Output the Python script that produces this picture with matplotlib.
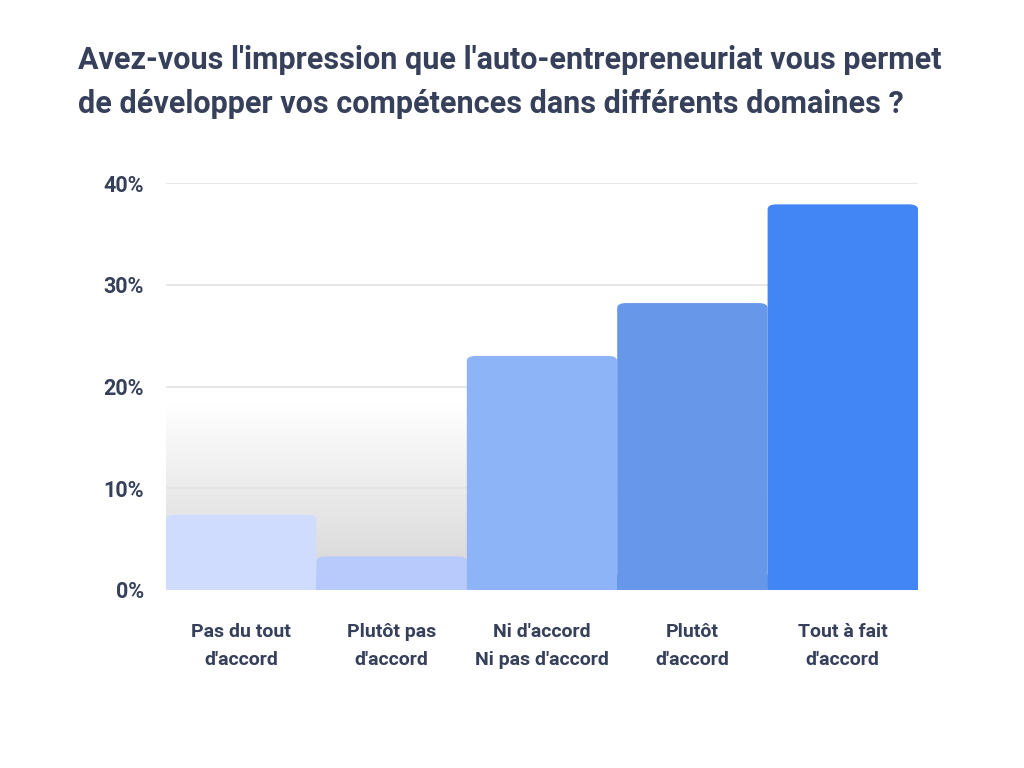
import numpy as np
import matplotlib
matplotlib.use("Agg")
import matplotlib.pyplot as plt
from matplotlib.patches import FancyBboxPatch
from matplotlib.colors import LinearSegmentedColormap

categories = ["Pas du tout\nd'accord", "Plutôt pas\nd'accord", "Ni d'accord\nNi pas d'accord",
              "Plutôt\nd'accord", "Tout à fait\nd'accord"]
values = [7.4, 3.3, 23.0, 28.2, 37.9]
colors = ["#cfdcfd", "#b8cafc", "#8db4f7", "#6797e9", "#4286f5"]
yticks = [0, 10, 20, 30, 40]

TEXT = "#36405a"
plt.rcParams["font.family"] = ["Roboto", "DejaVu Sans"]

fig = plt.figure(figsize=(10.24, 7.68), dpi=100)
ax = fig.add_axes([166 / 1024, 1 - 590 / 768, (918 - 166) / 1024, (590 - 183) / 768])
ax.set_xlim(-0.5, 4.5)
ax.set_ylim(0, 40)

# soft grey gradient behind the first two bars
grad = np.linspace(0, 1, 256).reshape(-1, 1)
cmap = LinearSegmentedColormap.from_list("g", ["#d4d4d4", "#ffffff"])
ax.imshow(grad, cmap=cmap, aspect="auto", extent=(-0.5, 1.5, 0, 18.2),
          origin="lower", zorder=0)

for y in yticks[1:]:
    ax.axhline(y, color="#e3e3e6", lw=1.2, zorder=1)

# bars with slightly rounded tops
bars = ax.bar(range(len(values)), values, width=1.0, color=colors, zorder=2)
for b, c in zip(bars, colors):
    b.set_visible(False)
    x0, w, h = b.get_x(), b.get_width(), b.get_height()
    r = 0.06
    ax.add_patch(FancyBboxPatch((x0 + r, r * 8), w - 2 * r, h - r * 16,
                                boxstyle=f"round,pad={r}", mutation_aspect=8,
                                fc=c, ec="none", zorder=2))
    ax.add_patch(plt.Rectangle((x0, 0), w, min(h, 1.5), fc=c, ec="none", zorder=2))

for s in ax.spines.values():
    s.set_visible(False)
ax.set_yticks(yticks)
ax.set_yticklabels([f"{v}%" for v in yticks], fontsize=15.5, fontweight="bold", color=TEXT)
ax.set_xticks(range(len(categories)))
ax.set_xticklabels(categories, fontsize=14, fontweight="semibold", color=TEXT, linespacing=1.7)
ax.tick_params(length=0)
ax.tick_params(axis="y", pad=16)
ax.tick_params(axis="x", pad=24)

fig.text(78 / 1024, 1 - 82 / 768,
         "Avez-vous l'impression que l'auto-entrepreneuriat vous permet\n"
         "de développer vos compétences dans différents domaines ?",
         fontsize=22, fontweight="bold", color=TEXT, va="center", ha="left",
         linespacing=1.55)

fig.savefig("out.png", dpi=100, facecolor="white")
